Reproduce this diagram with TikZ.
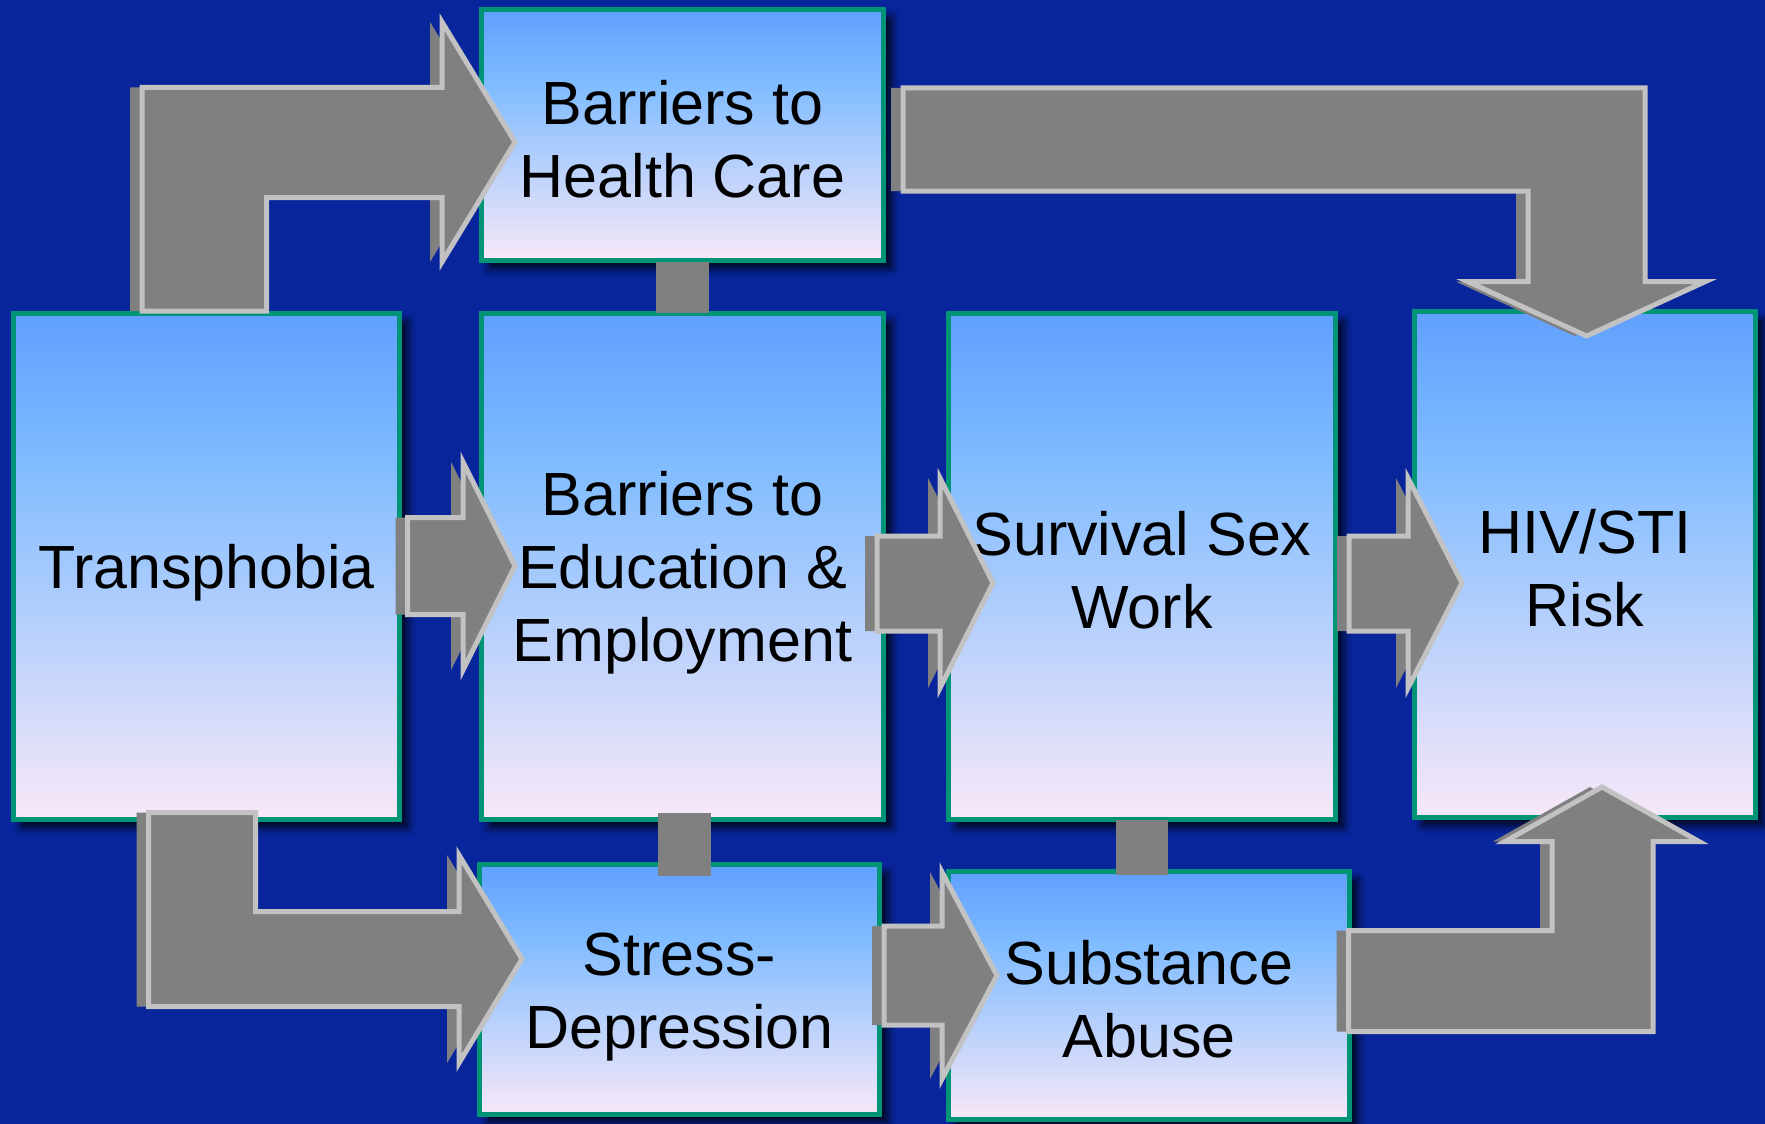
\documentclass[tikz,border=0pt]{standalone}
\usepackage{fontspec}
\setmainfont{Liberation Sans}
\usetikzlibrary{shadows.blur}

\definecolor{bgblue}{RGB}{8,37,155}
\definecolor{boxedge}{RGB}{0,148,118}
\definecolor{boxtop}{RGB}{96,160,255}
\definecolor{boxmid}{RGB}{128,188,255}
\definecolor{boxbot}{RGB}{248,232,248}
\definecolor{arrowfill}{RGB}{128,128,128}
\definecolor{arrowedge}{RGB}{194,194,194}

% sky blue at the top, fading to a pale pink at the bottom
\pgfdeclareverticalshading{boxgrad}{100bp}{%
  color(0bp)=(boxbot); color(25bp)=(boxbot); color(60bp)=(boxmid);
  color(75bp)=(boxtop); color(100bp)=(boxtop)}

% a line strut so every label is centred on the same line box
\newcommand\ls{\rule[-6pt]{0pt}{63pt}}

\tikzset{
  box/.style={draw=boxedge, line width=5pt, shading=boxgrad, align=center,
    inner sep=0pt, font=\fontsize{61}{73}\selectfont,
    blur shadow={shadow xshift=8pt, shadow yshift=-8pt,
      shadow blur radius=8pt, shadow opacity=85}},
  extrude/.style={fill=arrowfill, xshift=-12pt},
  arrowface/.style={fill=arrowfill, draw=arrowedge, line width=5pt},
  link/.style={fill=arrowfill}
}

% a grey block arrow with its side face showing on the left
\newcommand\blockarrow[1]{%
  \fill[extrude] #1;
  \filldraw[arrowface] #1;}

\begin{document}
\begin{tikzpicture}[x=1pt, y=-1pt]
  \useasboundingbox (0,0) rectangle (1765,1124);
  \fill[bgblue] (0,0) rectangle (1765,1124);

  % boxes
  \node[box, minimum width=402pt, minimum height=251pt] (hc)  at (682.5,135)   {\ls Barriers to\\\ls Health Care};
  \node[box, minimum width=386pt, minimum height=506pt] (tr)  at (206.5,566.5) {\ls Transphobia};
  \node[box, minimum width=402pt, minimum height=506pt] (ed)  at (682.5,566.5) {\ls Barriers to\\\ls Education \&\\\ls Employment};
  \node[box, minimum width=387pt, minimum height=506pt] (sw)  at (1142,566.5)  {\ls Survival Sex\\\ls Work};
  \node[box, minimum width=341pt, minimum height=506pt] (hiv) at (1585,564.5)  {\ls HIV/STI\\\ls Risk};
  \node[box, minimum width=400pt, minimum height=250pt] (sd)  at (679.5,989.5) {\ls Stress-\\\ls Depression};
  \node[box, minimum width=401pt, minimum height=248pt] (sa)  at (1149,995.5)  {\ls Substance\\\ls Abuse};

  % short grey links between stacked boxes
  \fill[link] (656,262) rectangle (709,313);    % hc -- ed
  \fill[link] (658,813) rectangle (711,876);    % ed -- sd
  \fill[link] (1116,820) rectangle (1168,875);  % sw -- sa

  % tr -> hc
  \blockarrow{(142,311) -- (142,87.5) -- (442,87.5) -- (442,22) -- (515,142)
    -- (442,262) -- (442,197.5) -- (266.5,197.5) -- (266.5,311) -- cycle}
  % tr -> ed
  \blockarrow{(407.5,517.5) -- (463,517.5) -- (463,462) -- (515,566)
    -- (463,670) -- (463,614.5) -- (407.5,614.5) -- cycle}
  % ed -> sw
  \blockarrow{(877,536) -- (940,536) -- (940,478) -- (993,583)
    -- (940,688) -- (940,631) -- (877,631) -- cycle}
  % sw -> hiv
  \blockarrow{(1349,536) -- (1408,536) -- (1408,478) -- (1462,583)
    -- (1408,688) -- (1408,631) -- (1349,631) -- cycle}
  % tr -> sd
  \blockarrow{(148.5,812.5) -- (255.5,812.5) -- (255.5,911.5) -- (459,911.5)
    -- (459,855) -- (522,959) -- (459,1063) -- (459,1006.5) -- (148.5,1006.5) -- cycle}
  % sd -> sa
  \blockarrow{(884,926) -- (942,926) -- (942,872) -- (997,975.5)
    -- (942,1079) -- (942,1025) -- (884,1025) -- cycle}
  % sa -> hiv
  \blockarrow{(1348.5,930.5) -- (1552,930.5) -- (1552,841.5) -- (1505,841.5)
    -- (1602,787) -- (1699,841.5) -- (1653,841.5) -- (1653,1031.5) -- (1348.5,1031.5) -- cycle}
  % hc -> hiv
  \blockarrow{(903,88) -- (1645,88) -- (1645,281.5) -- (1705.5,281.5)
    -- (1586.5,336) -- (1467.5,281.5) -- (1528,281.5) -- (1528,191) -- (903,191) -- cycle}
\end{tikzpicture}
\end{document}
